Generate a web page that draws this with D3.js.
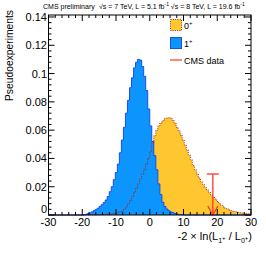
<!DOCTYPE html>
<html><head><meta charset="utf-8">
<script src="https://cdn.jsdelivr.net/npm/d3@7"></script>
<style>html,body{margin:0;padding:0;background:#fff;}svg{display:block;font-family:"Liberation Sans",Arial,Helvetica,sans-serif;}</style>
</head><body>
<svg id="c" width="266" height="253"></svg>
<script>
// Binning of both histograms
const xMin = -30, xMax = 30, nBins = 100;
// 1+ hypothesis (blue), bin contents
const spin1 = [0,0,0,0,0,0,0,0,0,0, 0,0,0,0,0,0,0,0.0002,0.0005,0.0009,
  0.0015,0.0022,0.003,0.0038,0.0048,0.006,0.0073,0.0088,0.0106,0.013,
  0.0165,0.020,0.025,0.030,0.036,0.044,0.053,0.062,0.072,0.081,
  0.090,0.097,0.104,0.108,0.110,0.1095,0.105,0.098,0.088,0.075,
  0.063,0.052,0.042,0.032,0.022,0.0145,0.009,0.006,0.0042,0.003,
  0.0022,0.0016,0.0011,0.0007,0.0004,0.0002,0.0001,0,0,0,
  0,0,0,0,0,0,0,0,0,0, 0,0,0,0,0,0,0,0,0,0, 0,0,0,0,0,0,0,0,0,0];
// 0+ hypothesis (yellow), bin contents
const spin0 = [0,0,0,0,0,0,0,0,0,0, 0,0,0,0,0,0,0,0,0,0,
  0.0001,0.0001,0.0001,0.0002,0.0002,0.0002,0.0003,0.0004,0.0005,0.0006,
  0.0007,0.0009,0.0011,0.0013,0.0016,0.002,0.0028,0.0040,0.0056,0.0078,
  0.0102,0.013,0.016,0.019,0.022,0.0255,0.029,0.032,0.036,0.040,
  0.045,0.051,0.056,0.060,0.063,0.065,0.0665,0.068,0.0685,0.0688,
  0.0685,0.067,0.065,0.062,0.0595,0.0565,0.053,0.0495,0.046,0.0425,
  0.039,0.035,0.032,0.029,0.026,0.0235,0.0215,0.0195,0.0177,0.016,
  0.0143,0.0128,0.0112,0.0095,0.0080,0.0068,0.0057,0.0048,0.0041,0.0035,
  0.003,0.0026,0.0023,0.002,0.0017,0.0015,0.0013,0.0011,0.0009,0.0008];
// Observed value
const dataX = [18.7];
const dataArrowTop = [0.029];
const xTicks = [-30,-20,-10,0,10,20,30];
const yTicks = [0,0.02,0.04,0.06,0.08,0.1,0.12,0.14];
const yMax = 0.1414;

const svg = d3.select("#c");
const x = d3.scaleLinear().domain([xMin, xMax]).range([48.5, 251]);
const y = d3.scaleLinear().domain([0, yMax]).range([215, 15]);
const bw = (xMax - xMin) / nBins;

function stepPts(vals){
  const p = [];
  vals.forEach((v,i)=>{ p.push([xMin+i*bw, v]); p.push([xMin+(i+1)*bw, v]); });
  return p;
}
const area = d3.area().x(d=>x(d[0])).y0(y(0)).y1(d=>y(d[1]));
const line = d3.line().x(d=>x(d[0])).y(d=>y(d[1]));

const p0 = stepPts(spin0), p1 = stepPts(spin1);
const YEL = "#fec62f", BLU = "#0c96fd", BLUL = "#1a4cf2", DRED = "#a3211c", RED = "#ff3333";

svg.append("path").attr("d", area(p0)).attr("fill", YEL);
svg.append("path").attr("d", area(p1)).attr("fill", BLU);
svg.append("path").attr("d", line(p1)).attr("fill","none").attr("stroke", BLUL).attr("stroke-width",1);
svg.append("path").attr("d", line(p0)).attr("fill","none").attr("stroke", DRED).attr("stroke-width",1).attr("stroke-dasharray","1,1.3");

// data arrow
const dx = x(dataX[0]), dy0 = y(dataArrowTop[0]), dy1 = y(0);
const g = svg.append("g").attr("stroke", RED).attr("stroke-width",1.3).attr("fill","none");
g.append("line").attr("x1",dx).attr("x2",dx).attr("y1",dy0).attr("y2",dy1);
g.append("line").attr("x1",dx-6).attr("x2",dx+6).attr("y1",dy0).attr("y2",dy0);
g.append("path").attr("d",`M${dx-5},${dy1-9}L${dx},${dy1}L${dx+5},${dy1-9}`);

// frame
const X0 = x.range()[0], X1 = x.range()[1], Y0 = y.range()[0], Y1 = y.range()[1];
svg.append("rect").attr("x",X0).attr("y",Y1).attr("width",X1-X0).attr("height",Y0-Y1)
  .attr("fill","none").attr("stroke","#000").attr("stroke-width",1);

// ticks
const tk = svg.append("g").attr("stroke","#000").attr("stroke-width",1);
for (let v = xMin; v <= xMax + 1e-9; v += 2) {
  const major = Math.abs(v % 10) < 1e-9;
  const L = major ? 6 : 3, px = x(v);
  tk.append("line").attr("x1",px).attr("x2",px).attr("y1",Y0).attr("y2",Y0-L);
  tk.append("line").attr("x1",px).attr("x2",px).attr("y1",Y1).attr("y2",Y1+L);
}
for (let k = 0; k*0.004 <= yMax; k++) {
  const v = k*0.004, major = k % 5 === 0;
  const L = major ? 6 : 3, py = y(v);
  tk.append("line").attr("x1",X0).attr("x2",X0+L).attr("y1",py).attr("y2",py);
  tk.append("line").attr("x1",X1).attr("x2",X1-L).attr("y1",py).attr("y2",py);
}
// tick labels
svg.append("g").selectAll("text").data(xTicks).join("text")
  .attr("x", d=>x(d)).attr("y", 226).attr("text-anchor","middle")
  .attr("font-size", 11).text(d=>d);
svg.append("g").selectAll("text").data(yTicks).join("text")
  .attr("x", X0-1.5).attr("y", d=>d===0 ? y(d)-2 : y(d)+4).attr("text-anchor","end")
  .attr("font-size", 11).text(d=>d===0?"0":d3.format(".2~f")(d));

// axis titles
const xt = svg.append("text").attr("x",252).attr("y",240).attr("text-anchor","end").attr("font-size",11);
xt.append("tspan").text("-2 × ln(L");
xt.append("tspan").attr("font-size",7).attr("dy",3).text("1");
xt.append("tspan").attr("font-size",6).attr("dy",-3).text("+");
xt.append("tspan").attr("dy",0).text(" / L");
xt.append("tspan").attr("font-size",7).attr("dy",3).text("0");
xt.append("tspan").attr("font-size",6).attr("dy",-3).text("+");
xt.append("tspan").attr("dy",0).text(")");

svg.append("text").attr("transform","translate(13,10) rotate(-90)").attr("text-anchor","end")
  .attr("font-size",10.3).text("Pseudoexperiments");

// header
const ht = svg.append("text").attr("x",43).attr("y",8.5).attr("font-size",7);
ht.append("tspan").text("CMS preliminary");
ht.append("tspan").attr("x",99).text("√s = 7 TeV, L = 5.1 fb");
ht.append("tspan").attr("font-size",5).attr("dy",-2.5).text("-1");
ht.append("tspan").attr("dy",2.5).text(" √s = 8 TeV, L = 19.6 fb");
ht.append("tspan").attr("font-size",5).attr("dy",-2.5).text("-1");

// legend
const lg = svg.append("g");
lg.append("rect").attr("x",170.5).attr("y",19.5).attr("width",11).attr("height",11)
  .attr("fill",YEL).attr("stroke",DRED).attr("stroke-dasharray","1,1.3");
lg.append("rect").attr("x",170.5).attr("y",37.5).attr("width",11).attr("height",11)
  .attr("fill",BLU).attr("stroke",BLUL);
lg.append("line").attr("x1",170).attr("x2",182).attr("y1",60).attr("y2",60).attr("stroke",RED).attr("stroke-width",1.2);
const leg = [["0",28.5],["1",46.5]];
leg.forEach(([s,yy])=>{
  const t = lg.append("text").attr("x",184).attr("y",yy).attr("font-size",9);
  t.append("tspan").text(s);
  t.append("tspan").attr("font-size",6).attr("dy",-4).text("+");
});
lg.append("text").attr("x",184).attr("y",63.5).attr("font-size",9).text("CMS data");
</script>
</body></html>
